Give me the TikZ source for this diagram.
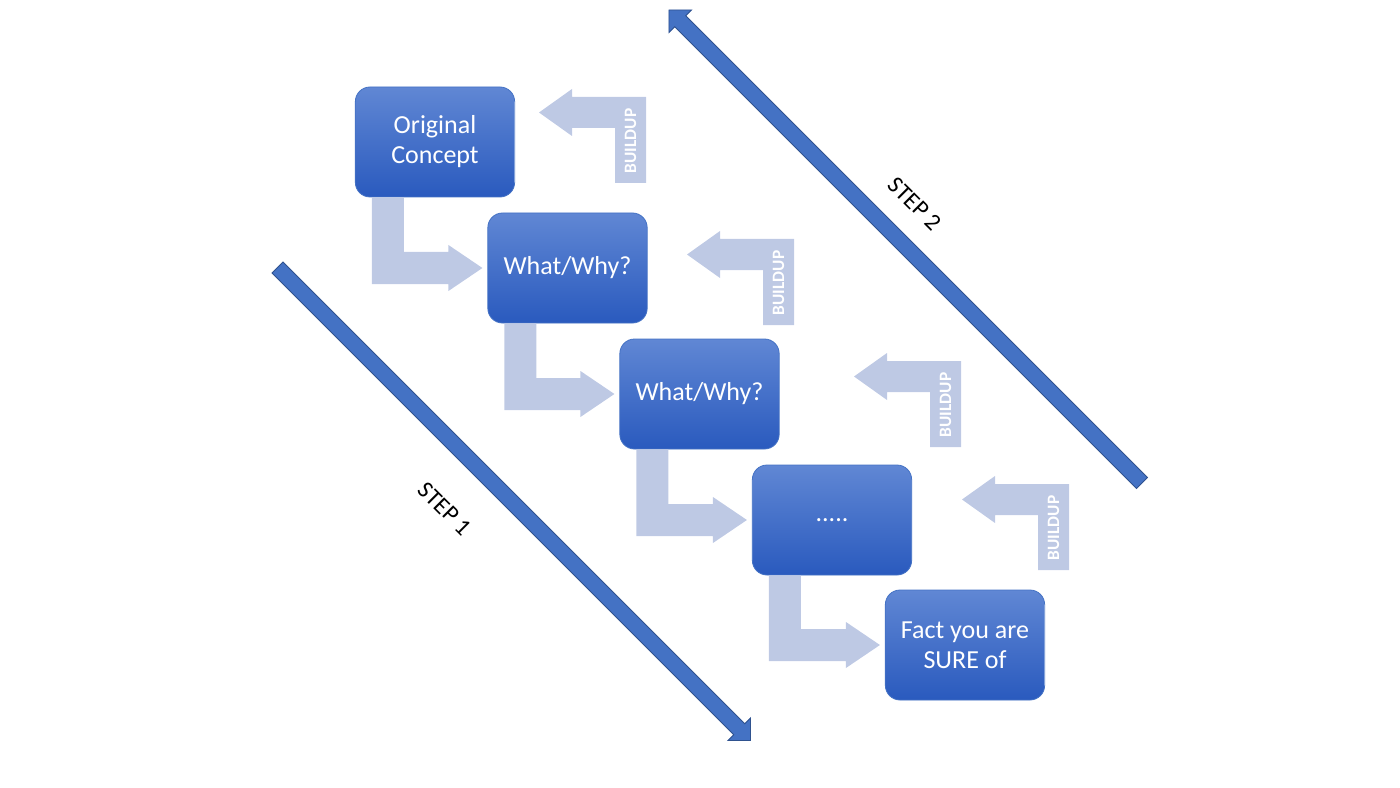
\documentclass[tikz,border=0pt]{standalone}
\usepackage{fontspec}
\setmainfont{Carlito}
\usetikzlibrary{calc}

\definecolor{boxtop}{RGB}{96,135,212}
\definecolor{boxbot}{RGB}{42,90,190}
\definecolor{boxline}{RGB}{68,114,196}
\definecolor{buildcol}{RGB}{190,201,228}
\definecolor{stepfill}{RGB}{68,114,196}
\definecolor{stepline}{RGB}{47,82,143}

\tikzset{
  stepbox/.style={rounded corners=11pt, top color=boxtop, bottom color=boxbot,
    draw=boxline, line width=0.6pt, minimum width=119.5pt, minimum height=82.5pt,
    text=white, align=center, font=\fontsize{19.5}{22.5}\selectfont},
  buildtxt/.style={text=white, rotate=90, font=\fontsize{13}{15}\selectfont\bfseries},
  steptxt/.style={rotate=-45, font=\fontsize{18}{22}\selectfont},
  bigarrow/.style={fill=stepfill, draw=stepline, line width=0.6pt}
}

\begin{document}
\begin{tikzpicture}[x=0.75pt, y=-0.75pt]
  \useasboundingbox (0,0) rectangle (1400,788);

  % boxes down the diagonal
  \node[stepbox] (box1) at (435,142)   {Original\\Concept};
  \node[stepbox] (box2) at (567.5,268) {What/Why?};
  \node[stepbox] (box3) at (699.5,394) {What/Why?};
  \node[stepbox] (box4) at (832,520)   {.....};
  \node[stepbox] (box5) at (965,645)   {Fact you are\\SURE of};

  % bent arrows: down out of one box, right into the next
  \foreach \a/\b in {box1/box2, box2/box3, box3/box4, box4/box5} {
    \coordinate (s) at ($(\a.south west)+(17,0)$);
    \coordinate (t) at ($(\b.west)+(-5,0)$);
    \fill[buildcol] (s) -- ++(32,0) |- ($(t)+(-34,-16)$) -- ++(0,-7) -- (t)
      -- ++(-34,23) -- ++(0,-7) -| (s);
  }

  % BUILDUP arrows, right edge / top
  \foreach \r/\t [count=\i] in {646/97, 794/239, 961/361, 1069/484} {
    \fill[buildcol] (\r,\t) -- ++(0,86) -- ++(-31,0) -- ++(0,-55) -- ++(-43,0)
      -- ++(0,8) -- ++(-33,-23.5) -- ++(33,-23.5) -- ++(0,8) -- cycle;
    \node[buildtxt] (bu\i) at (\r-15.5,\t+44) {BUILDUP};
  }

  % STEP 1: long arrow down to the right
  \begin{scope}[shift={(277.5,267.5)}, rotate=-45]
    \draw[bigarrow] (0,-7.8) -- (653,-7.8) -- (653,-16) -- (669,0) -- (653,16)
      -- (653,7.8) -- (0,7.8) -- cycle;
  \end{scope}
  \node[steptxt] (lbl1) at (445,509) {STEP 1};

  % STEP 2: long arrow back up to the left
  \begin{scope}[shift={(1142,483)}, rotate=135]
    \draw[bigarrow] (0,-7.8) -- (653,-7.8) -- (653,-16) -- (669,0) -- (653,16)
      -- (653,7.8) -- (0,7.8) -- cycle;
  \end{scope}
  \node[steptxt] (lbl2) at (915,204) {STEP 2};
\end{tikzpicture}
\end{document}
